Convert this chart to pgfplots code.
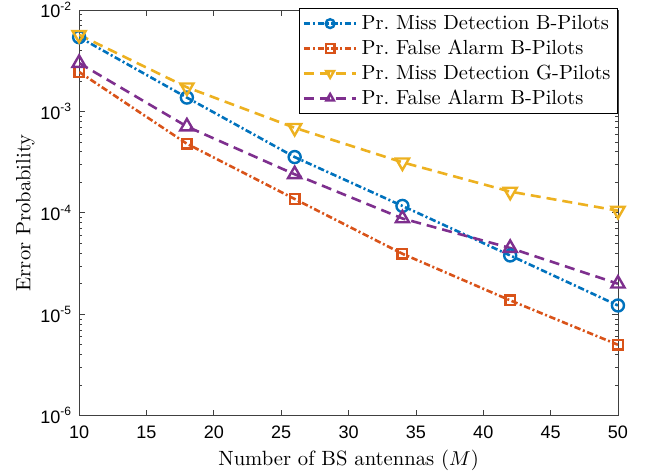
\documentclass[border=0pt]{standalone}
\usepackage{pgfplots}
\pgfplotsset{compat=1.18}
\usepackage{fontspec}
\newfontfamily\arialf{Liberation Sans}
\definecolor{mblue}{rgb}{0,0.447,0.741}
\definecolor{mred}{rgb}{0.85,0.325,0.098}
\definecolor{myellow}{rgb}{0.929,0.694,0.125}
\definecolor{mpurple}{rgb}{0.494,0.184,0.556}
\begin{document}
\begin{tikzpicture}
\begin{axis}[
  scale only axis,
  width=269pt, height=202.5pt,
  ymode=log,
  xmin=10, xmax=50, ymin=1e-6, ymax=1e-2,
  xtick={10,15,...,50},
  ytick={1e-6,1e-5,1e-4,1e-3,1e-2},
  yticklabels={{10\textsuperscript{-6}},{10\textsuperscript{-5}},{10\textsuperscript{-4}},{10\textsuperscript{-3}},{10\textsuperscript{-2}}},
  xticklabel style={font=\arialf\fontsize{9}{10}\selectfont, yshift=-1.5pt},
  yticklabel style={font=\arialf\fontsize{9}{10}\selectfont},
  /pgf/number format/assume math mode=true,
  xticklabel={\pgfmathprintnumber[assume math mode=true]{\tick}},
  tick align=inside,
  major tick length=3pt, minor tick length=1.6pt,
  axis line style={black!75, line width=0.45pt},
  every tick/.style={black!75, line width=0.35pt},
  xlabel={Number of BS antennas ($M$)},
  ylabel={Error Probability},
  label style={font=\fontsize{10.3}{12}\selectfont},
  xlabel style={yshift=1pt},
  ylabel style={yshift=-4pt},
  legend cell align=left,
  legend style={font=\fontsize{10.2}{12}\selectfont, draw=black, line width=0.45pt,
    inner xsep=1.5pt, inner ysep=1.3pt, row sep=-0.3pt, at={(1,1.005)}, anchor=north east},
  legend image code/.code={
    \draw[mark repeat=2, mark phase=2, mark size=2.2pt]
      plot coordinates {(0cm,0cm) (0.46cm,0cm) (0.92cm,0cm)};},
]
\addplot[mblue, line width=1.3pt, dash pattern=on 3.2pt off 1.3pt on 1pt off 1.3pt,
  mark=o, mark size=3pt, mark options={solid, line width=1.2pt}]
  coordinates {(10,5.4e-3) (18,1.37e-3) (26,3.55e-4) (34,1.17e-4) (42,3.8e-5) (50,1.22e-5)};
\addlegendentry{Pr.\ Miss Detection B-Pilots}
\addplot[mred, line width=1.3pt, dash pattern=on 3.2pt off 1.3pt on 1pt off 1.3pt,
  mark=square, mark size=2.4pt, mark options={solid, line width=1.2pt}]
  coordinates {(10,2.45e-3) (18,4.8e-4) (26,1.37e-4) (34,3.95e-5) (42,1.37e-5) (50,5e-6)};
\addlegendentry{Pr.\ False Alarm B-Pilots}
\addplot[myellow, line width=1.3pt, dash pattern=on 5pt off 3pt,
  mark=triangle, mark size=3.8pt, mark options={solid, line width=1.2pt, rotate=180}]
  coordinates {(10,5.7e-3) (18,1.73e-3) (26,6.9e-4) (34,3.15e-4) (42,1.62e-4) (50,1.05e-4)};
\addlegendentry{Pr.\ Miss Detection G-Pilots}
\addplot[mpurple, line width=1.3pt, dash pattern=on 5pt off 3pt,
  mark=triangle, mark size=3.8pt, mark options={solid, line width=1.2pt}]
  coordinates {(10,3.0e-3) (18,7.1e-4) (26,2.4e-4) (34,8.8e-5) (42,4.5e-5) (50,2.0e-5)};
\addlegendentry{Pr.\ False Alarm B-Pilots}
\end{axis}
\pgfresetboundingbox
\path ([shift={(-39.5pt,-28pt)}]current axis.south west) rectangle ([shift={(13.5pt,5pt)}]current axis.north east);
\end{tikzpicture}
\end{document}
